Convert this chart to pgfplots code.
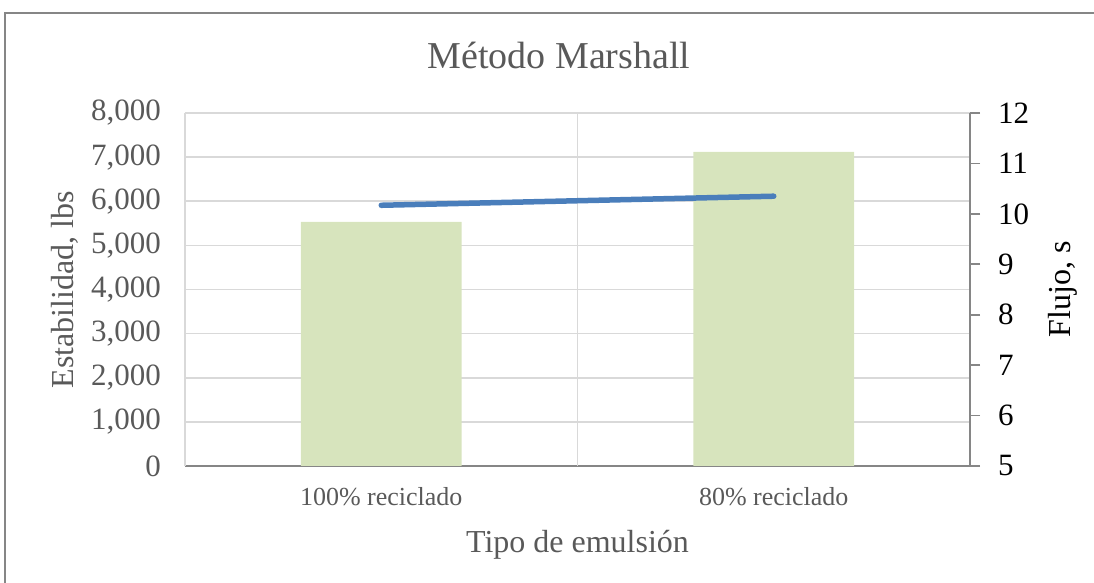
\documentclass[border=0pt]{standalone}
\usepackage{pgfplots}
\pgfplotsset{compat=1.18}
\usepackage{fontspec}
\setmainfont{Liberation Serif}
\definecolor{txtgray}{HTML}{595959}
\definecolor{gridgray}{HTML}{D9D9D9}
\definecolor{axgray}{HTML}{868686}
\definecolor{bargreen}{HTML}{D7E4BD}
\definecolor{lineblue}{HTML}{4A7EBB}
\begin{document}
\begin{tikzpicture}
\useasboundingbox (0,0) rectangle (547pt,291.5pt);
\draw[axgray, line width=0.8pt] (2.5pt,-5pt) rectangle (560pt,285pt);
\begin{axis}[
  at={(92.5pt,58.5pt)}, anchor=south west,
  scale only axis, width=392.5pt, height=176.5pt,
  xmin=-0.5, xmax=1.5, ymin=0, ymax=8000,
  xtick={0,1}, xticklabels={100\% reciclado, 80\% reciclado},
  ytick={0,1000,...,8000},
  extra x ticks={-0.5,0.5}, extra x tick labels={},
  extra x tick style={grid=major, major tick length=0pt},
  ymajorgrids, grid style={gridgray, line width=0.8pt},
  axis x line*=bottom, axis y line*=left,
  x axis line style={axgray, line width=0.8pt, -},
  y axis line style={draw=none},
  major tick length=0pt,
  /pgf/number format/.cd, 1000 sep={,}, assume math mode=true, /pgfplots/.cd,
  yticklabel style={font=\fontsize{15.5}{18}\selectfont, text=txtgray, anchor=east, xshift=-8.5pt},
  xticklabel style={font=\fontsize{13}{15}\selectfont, text=txtgray, anchor=base, yshift=-20pt},
  xlabel={Tipo de emulsión},
  xlabel style={font=\fontsize{16}{19}\selectfont, text=txtgray, at={(axis description cs:0.5,0)}, anchor=base, yshift=-43.5pt},
  ylabel={Estabilidad, lbs},
  ylabel style={font=\fontsize{16}{19}\selectfont, text=txtgray, at={(axis description cs:0,0.5)}, anchor=center, yshift=60pt},
  title={Método Marshall},
  title style={font=\fontsize{19}{22}\selectfont, text=txtgray, at={(axis description cs:0.5,1)}, anchor=base, xshift=-9.25pt, yshift=16.5pt},
]
\addplot[ybar, bar width=0.41, fill=bargreen, draw=none, bar shift=0pt] coordinates {(0,5530) (1,7120)};
\end{axis}
\begin{axis}[
  at={(92.5pt,58.5pt)}, anchor=south west,
  scale only axis, width=392.5pt, height=176.5pt,
  xmin=-0.5, xmax=1.5, ymin=5, ymax=12,
  ytick={5,6,...,12},
  axis x line=none, axis y line*=right,
  y axis line style={axgray, line width=0.8pt, -},
  ytick style={axgray, line width=0.8pt},
  tick align=outside, major tick length=5pt,
  /pgf/number format/assume math mode=true,
  yticklabel style={font=\fontsize{15.5}{18}\selectfont, text=black, anchor=west, xshift=5.5pt},
  ylabel={Flujo, s},
  ylabel style={font=\fontsize{16}{19}\selectfont, text=black, at={(axis description cs:1,0.5)}, anchor=center, yshift=-46.5pt},
]
\addplot[lineblue, line width=2.75pt, line cap=round] coordinates {(0,10.17) (1,10.35)};
\end{axis}
\end{tikzpicture}
\end{document}
